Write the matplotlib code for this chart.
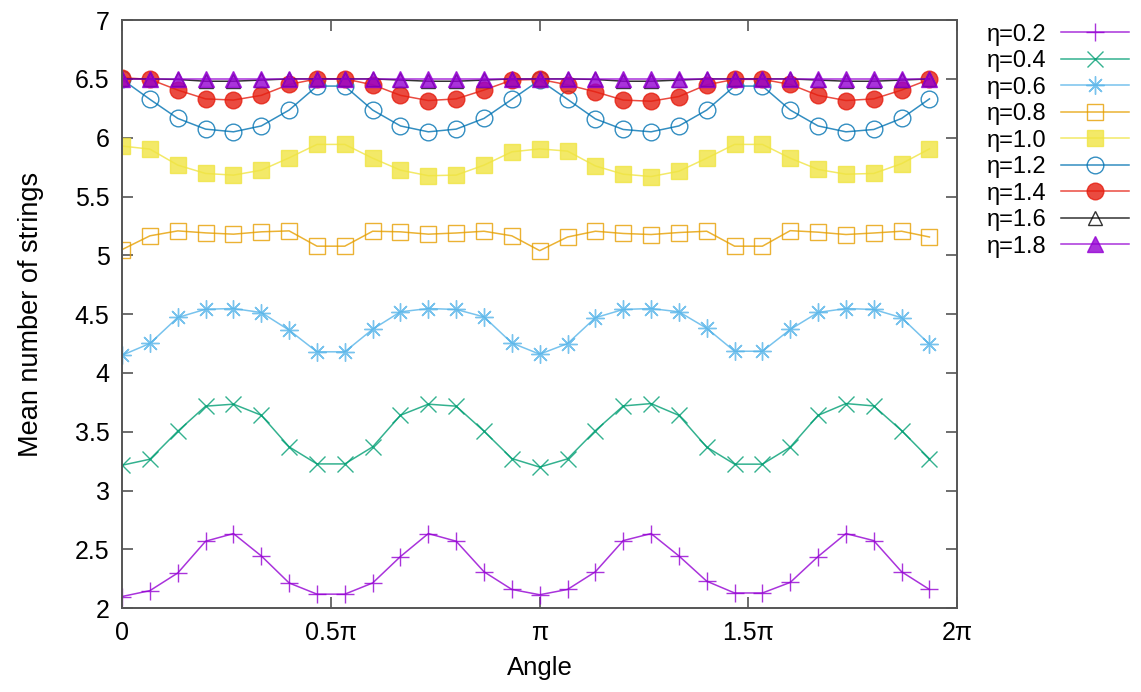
import numpy as np
import matplotlib
matplotlib.use("Agg")
import matplotlib.pyplot as plt

plt.rcParams['font.family'] = ['Liberation Sans', 'DejaVu Sans']

# Sample angles: k * pi / 15, k = 0..29
n_points = 30
angle = np.arange(n_points) * np.pi / 15

eta_labels = ["η=0.2", "η=0.4", "η=0.6", "η=0.8", "η=1.0",
              "η=1.2", "η=1.4", "η=1.6", "η=1.8"]

eta_02 = [2.10, 2.15, 2.30, 2.57, 2.635, 2.445, 2.215, 2.12, 2.12, 2.215,
          2.44, 2.635, 2.57, 2.31, 2.16, 2.115, 2.16, 2.31, 2.575, 2.635,
          2.445, 2.23, 2.13, 2.13, 2.22, 2.44, 2.635, 2.575, 2.31, 2.16]
eta_04 = [3.216, 3.267, 3.505, 3.718, 3.735, 3.641, 3.372, 3.227, 3.227, 3.372,
          3.641, 3.735, 3.718, 3.505, 3.273, 3.20, 3.27, 3.51, 3.72, 3.74,
          3.64, 3.37, 3.225, 3.225, 3.37, 3.64, 3.74, 3.72, 3.51, 3.27]
eta_06 = [4.151, 4.251, 4.472, 4.542, 4.548, 4.514, 4.364, 4.18, 4.18, 4.372,
          4.52, 4.548, 4.54, 4.477, 4.255, 4.16, 4.25, 4.47, 4.54, 4.548,
          4.52, 4.38, 4.185, 4.185, 4.37, 4.515, 4.548, 4.54, 4.47, 4.245]
eta_08 = [5.049, 5.166, 5.208, 5.191, 5.18, 5.20, 5.208, 5.078, 5.078, 5.205,
          5.20, 5.18, 5.19, 5.205, 5.166, 5.04, 5.156, 5.205, 5.186, 5.177,
          5.194, 5.205, 5.078, 5.078, 5.21, 5.197, 5.177, 5.19, 5.205, 5.156]
eta_10 = [5.929, 5.903, 5.767, 5.696, 5.682, 5.724, 5.829, 5.943, 5.943, 5.826,
          5.724, 5.677, 5.682, 5.767, 5.88, 5.905, 5.886, 5.76, 5.69, 5.67,
          5.715, 5.826, 5.943, 5.943, 5.826, 5.73, 5.69, 5.696, 5.78, 5.905]
eta_12 = [6.496, 6.326, 6.164, 6.073, 6.05, 6.10, 6.235, 6.439, 6.439, 6.235,
          6.10, 6.05, 6.073, 6.164, 6.326, 6.49, 6.326, 6.16, 6.07, 6.05,
          6.10, 6.235, 6.439, 6.439, 6.235, 6.10, 6.05, 6.07, 6.164, 6.33]
eta_14 = [6.51, 6.496, 6.405, 6.33, 6.32, 6.36, 6.453, 6.50, 6.50, 6.45,
          6.36, 6.316, 6.33, 6.405, 6.49, 6.496, 6.45, 6.39, 6.32, 6.31,
          6.35, 6.45, 6.496, 6.496, 6.453, 6.36, 6.316, 6.33, 6.405, 6.496]
eta_16 = [6.50, 6.50, 6.495, 6.48, 6.48, 6.49, 6.50, 6.50, 6.50, 6.50,
          6.49, 6.48, 6.48, 6.49, 6.50, 6.50, 6.50, 6.495, 6.48, 6.48,
          6.49, 6.50, 6.50, 6.50, 6.50, 6.49, 6.48, 6.48, 6.49, 6.50]
eta_18 = [6.50, 6.50, 6.50, 6.50, 6.50, 6.50, 6.50, 6.50, 6.50, 6.50,
          6.50, 6.50, 6.50, 6.50, 6.50, 6.50, 6.50, 6.50, 6.50, 6.50,
          6.50, 6.50, 6.50, 6.50, 6.50, 6.50, 6.50, 6.50, 6.50, 6.50]

series = [eta_02, eta_04, eta_06, eta_08, eta_10, eta_12, eta_14, eta_16, eta_18]

colors = ["#9400D3", "#009E73", "#56B4E9", "#E69F00", "#F0E442",
          "#0072B2", "#E51E10", "#000000", "#9400D3"]
asterisk = (8, 2, 0)
styles = [
    dict(marker="+", ms=13, filled=False),
    dict(marker="x", ms=11, filled=False),
    dict(marker=asterisk, ms=13, filled=False),
    dict(marker="s", ms=11, filled=False),
    dict(marker="s", ms=11, filled=True),
    dict(marker="o", ms=12, filled=False),
    dict(marker="o", ms=12, filled=True),
    dict(marker="^", ms=10, filled=False),
    dict(marker="^", ms=11, filled=True),
]

fig = plt.figure(figsize=(11.41, 6.92), dpi=100)
ax = fig.add_axes([0.107, 0.121, 0.732, 0.850])

for vals, label, c, st in zip(series, eta_labels, colors, styles):
    mfc = c if st["filled"] else "none"
    ax.plot(angle, vals, color=c, lw=1.1, marker=st["marker"], ms=st["ms"],
            mew=1.0, mec=c, mfc=mfc, label=label, alpha=0.8)

ax.set_xlim(0, 2 * np.pi)
ax.set_ylim(2, 7)
ax.set_xticks([0, 0.5 * np.pi, np.pi, 1.5 * np.pi, 2 * np.pi])
ax.set_xticklabels(["0", "0.5π", "π", "1.5π", "2π"])
ax.set_yticks(np.arange(2, 7.01, 0.5))
ax.set_yticklabels(["2", "2.5", "3", "3.5", "4", "4.5", "5", "5.5", "6", "6.5", "7"])
ax.tick_params(direction="in", length=8, width=1.2, top=True, right=True,
               labelsize=18, colors="#555555", labelcolor="black", pad=9)
for s in ax.spines.values():
    s.set_linewidth(1.4)
    s.set_color("#555555")

ax.set_xlabel("Angle", fontsize=18.5, labelpad=8)
ax.set_ylabel("Mean number of strings", fontsize=19.5, labelpad=22)

leg = ax.legend(loc="upper left", bbox_to_anchor=(1.024, 1.01), frameon=False,
                markerfirst=False, fontsize=17, handlelength=2.9,
                labelspacing=0.19, handletextpad=0.6, borderaxespad=0.0)

fig.savefig("out.png", dpi=100)
